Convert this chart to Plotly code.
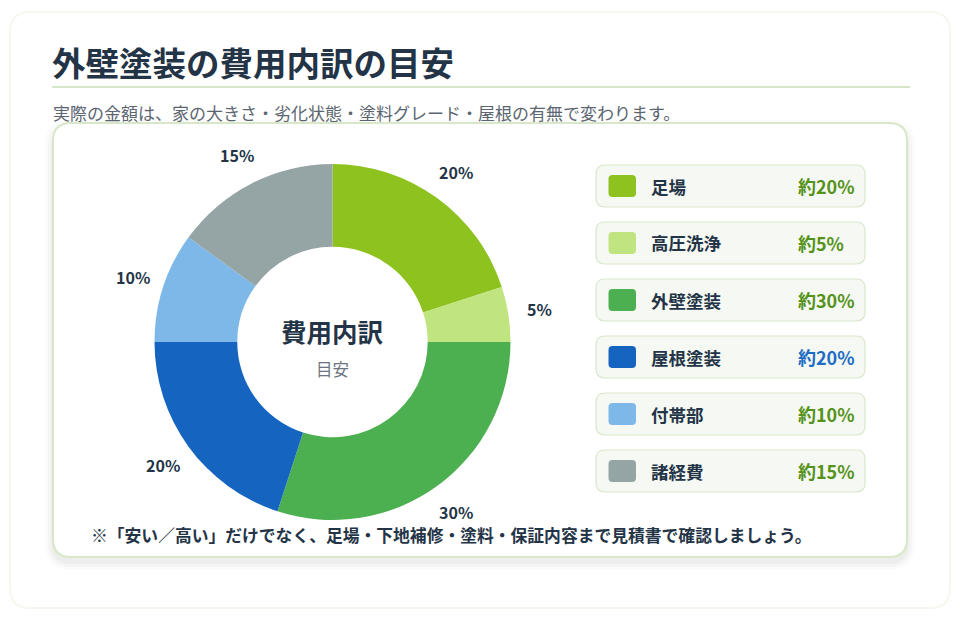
import math
import plotly.graph_objects as go

W, H = 960, 620
categories = ["足場", "高圧洗浄", "外壁塗装", "屋根塗装", "付帯部", "諸経費"]
values = [20, 5, 30, 20, 10, 15]
colors = ["#8dc21f", "#c0e47f", "#4caf50", "#1565c0", "#7db8e9", "#95a5a6"]
value_colors = ["#55921a", "#55921a", "#55921a", "#1f6cc4", "#55921a", "#55921a"]
title = "外壁塗装の費用内訳の目安"
subtitle = "実際の金額は、家の大きさ・劣化状態・塗料グレード・屋根の有無で変わります。"
footnote = "※「安い／高い」だけでなく、足場・下地補修・塗料・保証内容まで見積書で確認しましょう。"
center_main = "費用内訳"
center_sub = "目安"

FONT = "Noto Sans CJK JP"
DARK = "#243447"

def px(x):
    return x / W

def py(y):
    return 1 - y / H

def rrect(x0, y0, x1, y1, r):
    X0, X1 = px(x0), px(x1)
    Y0, Y1 = py(y0), py(y1)
    rx, ry = r / W, r / H
    return (f"M {X0+rx},{Y0} L {X1-rx},{Y0} Q {X1},{Y0} {X1},{Y0-ry} "
            f"L {X1},{Y1+ry} Q {X1},{Y1} {X1-rx},{Y1} L {X0+rx},{Y1} "
            f"Q {X0},{Y1} {X0},{Y1+ry} L {X0},{Y0-ry} Q {X0},{Y0} {X0+rx},{Y0} Z")

# pie geometry (pixels)
CX, CY, R = 332.5, 342, 178
fig = go.Figure()
fig.add_trace(go.Pie(
    labels=categories, values=values, sort=False, direction="clockwise", rotation=0,
    hole=0.535, marker=dict(colors=colors, line=dict(width=0)),
    textinfo="none",
    domain=dict(x=[px(CX - R), px(CX + R)], y=[py(CY + R), py(CY - R)]),
    showlegend=False, hoverinfo="label+percent",
))

shapes = []
# outer faint page card
shapes.append(dict(type="path", path=rrect(10, 12, 950, 608, 20), xref="paper", yref="paper",
                   fillcolor="#ffffff", line=dict(color="#f4f8ee", width=2), layer="below"))
# title underline
shapes.append(dict(type="line", xref="paper", yref="paper", x0=px(52), x1=px(910), y0=py(87), y1=py(87),
                   line=dict(color="#d6e7c9", width=2), layer="below"))
# card shadow
for i, a in enumerate([0.025, 0.03, 0.04]):
    d = 8 - 3 * i
    shapes.append(dict(type="path", path=rrect(53 - d, 123 - d + 5, 907 + d, 557 + d + 5, 18 + d),
                       xref="paper", yref="paper", fillcolor=f"rgba(60,70,60,{a})",
                       line=dict(width=0), layer="below"))
# main card
shapes.append(dict(type="path", path=rrect(53, 123, 907, 557, 18), xref="paper", yref="paper",
                   fillcolor="#ffffff", line=dict(color="#d8e7c7", width=2), layer="below"))

annotations = []
# percent labels around the donut, computed from the data
total = sum(values)
cum = 0
LR = 210
for v in values:
    mid = (cum + v / 2) / total * 2 * math.pi
    cum += v
    lx = CX + LR * math.sin(mid)
    ly = CY - LR * math.cos(mid)
    annotations.append(dict(x=px(lx), y=py(ly), xref="paper", yref="paper", xanchor="center", yanchor="middle",
                            text=f"<b>{round(v / total * 100)}%</b>", showarrow=False,
                            font=dict(family=FONT, size=16, color=DARK)))

# legend rows
row_top = 165
row_h = 42
row_gap = 57
for i, (c, v, col, vc) in enumerate(zip(categories, values, colors, value_colors)):
    y0 = row_top + i * row_gap
    y1 = y0 + row_h
    shapes.append(dict(type="path", path=rrect(596, y0, 865, y1, 9), xref="paper", yref="paper",
                       fillcolor="#f6f9f3", line=dict(color="#d9e7cc", width=1.2), layer="below"))
    ym = (y0 + y1) / 2
    shapes.append(dict(type="path", path=rrect(608.5, ym - 11, 636, ym + 11, 4), xref="paper", yref="paper",
                       fillcolor=col, line=dict(width=0), layer="above"))
    annotations.append(dict(x=px(649), y=py(ym), xref="paper", yref="paper", xanchor="left", yanchor="middle",
                            text=f"<b>{c}</b>", showarrow=False,
                            font=dict(family=FONT, size=17.5, color=DARK)))
    annotations.append(dict(x=px(796), y=py(ym), xref="paper", yref="paper", xanchor="left", yanchor="middle",
                            text=f"<b>約{v}%</b>", showarrow=False,
                            font=dict(family=FONT, size=18, color=vc)))

annotations += [
    dict(x=px(50), y=py(61), xref="paper", yref="paper", xanchor="left", yanchor="middle",
         text=f"<b>{title}</b>", showarrow=False, font=dict(family=FONT, size=33.5, color=DARK)),
    dict(x=px(51), y=py(112), xref="paper", yref="paper", xanchor="left", yanchor="middle",
         text=subtitle, showarrow=False, font=dict(family=FONT, size=17, color="#5b6570")),
    dict(x=px(89), y=py(535), xref="paper", yref="paper", xanchor="left", yanchor="middle",
         text=f"<b>{footnote}</b>", showarrow=False, font=dict(family=FONT, size=16.8, color=DARK)),
    dict(x=px(CX), y=py(330), xref="paper", yref="paper", xanchor="center", yanchor="middle",
         text=f"<b>{center_main}</b>", showarrow=False, font=dict(family=FONT, size=25.5, color=DARK)),
    dict(x=px(CX), y=py(369), xref="paper", yref="paper", xanchor="center", yanchor="middle",
         text=center_sub, showarrow=False, font=dict(family=FONT, size=16.5, color="#6b7480")),
]

fig.update_layout(
    width=W, height=H, margin=dict(l=0, r=0, t=0, b=0),
    paper_bgcolor="#ffffff", plot_bgcolor="#ffffff",
    shapes=shapes, annotations=annotations,
    font=dict(family=FONT),
)
fig.write_html("out.html")
